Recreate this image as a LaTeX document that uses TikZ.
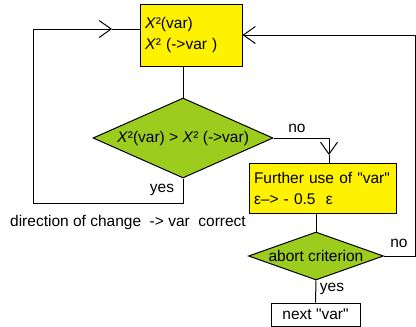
\documentclass[tikz,border=0pt]{standalone}
\usepackage{fontspec}
\setmainfont{Liberation Sans}[Ligatures=TeXOff]
\usetikzlibrary{positioning,arrows.meta,shapes.geometric}
\definecolor{boxyellow}{RGB}{255,242,0}
\definecolor{diagreen}{RGB}{155,204,30}

\begin{document}
\begin{tikzpicture}[x=1pt,y=-1pt,line width=1pt,
	every node/.style={font=\fontsize{15.5}{21}\selectfont},
	box/.style={draw=black,fill=boxyellow,align=left,inner xsep=5pt,inner ysep=0pt},
	dia/.style={draw=black,fill=diagreen,diamond,inner sep=0pt},
	barb/.style={-{Straight Barb[length=12pt,width=17pt]}}]

			\useasboundingbox (0,0) rectangle (416,327);

			%boxes and decisions
			\node [box,text width=92pt,minimum height=62pt] (n1) at (191,35) {\textit{X}²(var)\\\textit{X}² (->var )};
			\node [dia,minimum width=180pt,minimum height=80pt,aspect=2.25,label=center:{\textit{X}²(var) > \textit{X}² (->var)}] (n2) at (183,138) {};
			\node [box,text width=137pt,minimum height=50pt] (n3) at (322.5,188) {Further use of "var"\\ε–> - 0.5\ \ ε};
			\node [dia,minimum width=135pt,minimum height=48pt,aspect=2.8,label=center:{abort criterion}] (n4) at (316,256) {};
			\node [draw=black,fill=white,minimum width=89pt,minimum height=23pt,inner sep=0pt] (n5) at (315.5,314.5) {next "var"};

			%bends
			\coordinate (c1) at (33,203);
			\coordinate (a1) at (112,29);
			\coordinate (a2) at (329,155);
			\coordinate (c2) at (415,256);

			%edges
			\draw (n1.south -| n2.north) -- (n2.north);
			\draw [barb] (n2.south) |- (c1) |- (a1);
			\draw (a1) -- (a1 -| n1.west);
			\draw [barb] (n2.east) -| (a2);
			\draw (a2) -- (a2 |- n3.north);
			\draw (n3.south -| n4.north) -- (n4.north);
			\draw [barb] (n4.east) -| (c2) |- (n1.east);
			\draw (n4.south) -- (n5.north);

			%labels
			\node (l1) at (297,128) {no};
			\node (l2) at (162,190) {yes};
			\node (l3) at (399,243) {no};
			\node (l4) at (332,289) {yes};
			\node (l5) at (128,222) {direction of change\ \ -> var\ \ correct};
\end{tikzpicture}
\end{document}
